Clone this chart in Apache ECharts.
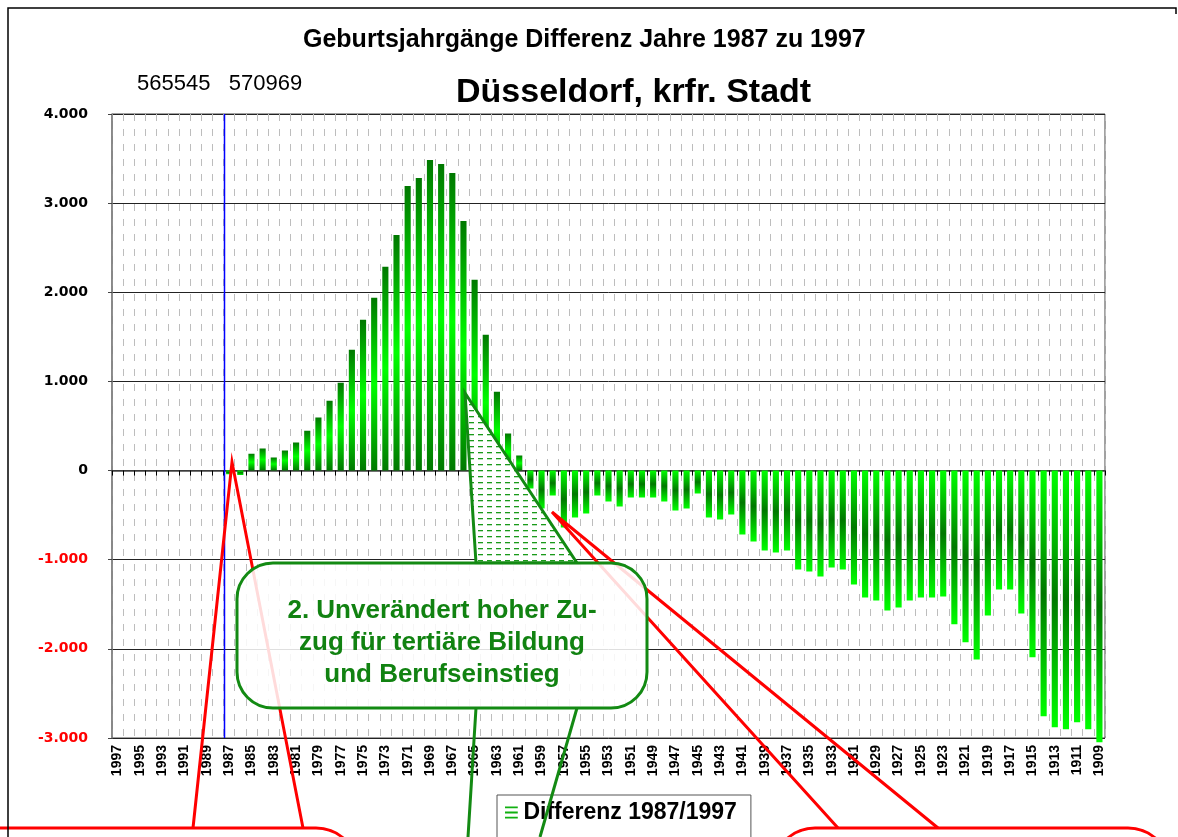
<!DOCTYPE html>
<html><head><meta charset="utf-8">
<script src="https://cdn.jsdelivr.net/npm/echarts@6/dist/echarts.min.js"></script>
<style>html,body{margin:0;padding:0;background:#fff}#c{width:1178px;height:837px}</style>
</head><body><div id="c"></div>
<script>
// ---- data ----
const years = ['1997','1996','1995','1994','1993','1992','1991','1990','1989','1988',
 '1987','1986','1985','1984','1983','1982','1981','1980','1979','1978',
 '1977','1976','1975','1974','1973','1972','1971','1970','1969','1968',
 '1967','1966','1965','1964','1963','1962','1961','1960','1959','1958',
 '1957','1956','1955','1954','1953','1952','1951','1950','1949','1948',
 '1947','1946','1945','1944','1943','1942','1941','1940','1939','1938',
 '1937','1936','1935','1934','1933','1932','1931','1930','1929','1928',
 '1927','1926','1925','1924','1923','1922','1921','1920','1919','1918',
 '1917','1916','1915','1914','1913','1912','1911','1910','1909'];
const diff = [null,null,null,null,null,null,null,null,null,null,
 -40,-50,190,247,146,224,314,448,594,784,
 986,1356,1692,1938,2286,2644,3193,3283,3485,3440,
 3339,2801,2140,1524,885,415,168,-202,-426,-280,
 -639,-527,-482,-280,-347,-403,-303,-303,-303,-347,
 -448,-426,-258,-527,-549,-493,-717,-796,-896,-919,
 -896,-1109,-1132,-1188,-1087,-1109,-1277,-1423,-1457,-1569,
 -1535,-1457,-1423,-1423,-1412,-1725,-1927,-2118,-1625,-1333,
 -1333,-1602,-2095,-2756,-2880,-2902,-2824,-2902,-3048];
const yTickValues = [-3000,-2000,-1000,0,1000,2000,3000,4000];
const yTickLabels = ['-3.000','-2.000','-1.000','0','1.000','2.000','3.000','4.000'];
const seriesName = 'Differenz 1987/1997';
const titleTop = 'Geburtsjahrgänge Differenz Jahre 1987 zu 1997';
const titleMain = 'Düsseldorf, krfr. Stadt';
const popText = '565545   570969';
const calloutText = '2. Unverändert hoher Zu-\nzug für tertiäre Bildung\nund Berufseinstieg';
const markerYearBefore = '1988', markerYearAfter = '1987';

// ---- styling ----
const FF = '"Liberation Sans", Arial, sans-serif';
const G = echarts.graphic.LinearGradient;
const posGrad = () => new G(0,0,0,1,[{offset:0,color:'#007800'},{offset:0.5,color:'#00ff00'},{offset:1,color:'#007800'}]);
const negGrad = () => new G(0,0,0,1,[{offset:0,color:'#00ff00'},{offset:0.5,color:'#007800'},{offset:1,color:'#00ff00'}]);
const barData = diff.map(v => v == null ? null : {value: v, itemStyle: {color: v >= 0 ? posGrad() : negGrad()}});

const pat = document.createElement('canvas');
pat.width = 9; pat.height = 6;
const pctx = pat.getContext('2d');
pctx.fillStyle = '#fff'; pctx.fillRect(0,0,9,6);
pctx.fillStyle = '#1a9a1a'; pctx.fillRect(1,2,5,1.3);

const chart = echarts.init(document.getElementById('c'), null, {renderer: 'canvas'});
const GREEN = '#138a13';
const option = {
  animation: false,
  backgroundColor: '#fff',
  title: [
    {text: titleTop, left: 298, top: 23, textStyle: {fontFamily: FF, fontWeight: 'bold', fontSize: 25, color: '#000'}},
    {text: titleMain, left: 451, top: 71, textStyle: {fontFamily: FF, fontWeight: 'bold', fontSize: 34, color: '#000'}},
    {text: popText, left: 132, top: 68, textStyle: {fontFamily: FF, fontWeight: 'normal', fontSize: 22, color: '#000'}}
  ],
  legend: {
    data: [{name: seriesName, icon: 'path://M0,0H10V1.4H0Z M0,4H10V5.4H0Z M0,8H10V9.4H0Z', itemStyle: {color: '#10b010'}}],
    left: 497, top: 795, orient: 'horizontal',
    itemWidth: 14, itemHeight: 12, itemGap: 6,
    padding: [6, 14, 40, 8],
    borderColor: '#555', borderWidth: 1, backgroundColor: '#fff',
    textStyle: {fontFamily: FF, fontWeight: 'bold', fontSize: 23, color: '#000'},
    selectedMode: false
  },
  grid: {left: 112, right: 73, top: 114, bottom: 99, show: true, borderColor: '#444', borderWidth: 1, containLabel: false},
  xAxis: [
    {type: 'category', data: years, position: 'bottom',
     axisLine: {show: false, onZero: false}, axisTick: {show: false},
     axisLabel: {interval: 1, rotate: 90, margin: 7, fontFamily: FF, fontWeight: 'bold', fontSize: 14, color: '#000'},
     splitLine: {show: true, interval: 0, lineStyle: {color: '#bdbdbd', width: 1, type: [7, 8]}}},
    {type: 'category', data: years, position: 'top',
     axisLine: {show: true, onZero: true, lineStyle: {color: '#444', width: 1.5}},
     axisTick: {show: true, interval: 0, inside: true, length: 5, lineStyle: {color: '#000'}},
     axisLabel: {show: false}, splitLine: {show: false}}
  ],
  yAxis: {
    type: 'value', min: -3000, max: 4000, interval: 1000,
    axisLine: {show: true, lineStyle: {color: '#808080', width: 1.5}},
    axisTick: {show: true, length: 4, lineStyle: {color: '#444'}},
    splitLine: {show: true, lineStyle: {color: '#222', width: 1}},
    axisLabel: {
      margin: 24,
      fontFamily: '"DejaVu Sans", sans-serif', fontWeight: 'bold', fontSize: 14,
      formatter: v => { const i = yTickValues.indexOf(v); return i >= 0 ? yTickLabels[i] : ''; },
      color: v => (v < 0 ? '#ff0000' : '#000')
    }
  },
  series: [{
    name: seriesName, type: 'bar', xAxisIndex: 0, data: barData,
    barWidth: '55%', clip: false, z: 3
  }],
  graphic: [
    {type: 'polyline', id: 'frame', z: 30, shape: {points: [[8,837],[8,8],[1176,8],[1176,14]]}, style: {stroke: '#000', lineWidth: 1.5, fill: null}},
    {type: 'polyline', id: 'redL', z: 20, shape: {points: [[193,828],[232,462],[303,828]]}, style: {stroke: '#ff0000', lineWidth: 3, fill: null}},
    {type: 'polyline', id: 'redR', z: 20, shape: {points: [[838,828],[552,512],[938,828]]}, style: {stroke: '#ff0000', lineWidth: 3, fill: null}},
    {type: 'rect', id: 'redBoxL', z: 21, shape: {x: -60, y: 828, width: 418, height: 120, r: 42}, style: {stroke: '#ff0000', lineWidth: 3, fill: '#fff'}},
    {type: 'rect', id: 'redBoxR', z: 21, shape: {x: 773, y: 828, width: 397, height: 120, r: 42}, style: {stroke: '#ff0000', lineWidth: 3, fill: '#fff'}},
    {type: 'polyline', id: 'gL1', z: 22, shape: {points: [[476,708],[468,837]]}, style: {stroke: GREEN, lineWidth: 3, fill: null}},
    {type: 'polyline', id: 'gL2', z: 22, shape: {points: [[577,708],[540,837]]}, style: {stroke: GREEN, lineWidth: 3, fill: null}},
    {type: 'polygon', id: 'gWedge', z: 22, shape: {points: [[465,393],[476,563],[577,563]]}, style: {stroke: GREEN, lineWidth: 3, fill: {image: pat, repeat: 'repeat'}}},
    {type: 'rect', id: 'gBox', z: 23, shape: {x: 237, y: 563, width: 410, height: 145, r: 36}, style: {stroke: GREEN, lineWidth: 3, fill: 'rgba(255,255,255,0.86)'}},
    {type: 'text', id: 'gText', z: 24, x: 442, y: 643, style: {text: calloutText, fill: '#118211', font: 'bold 26px "Liberation Sans", Arial, sans-serif', align: 'center', verticalAlign: 'middle', lineHeight: 32}}
  ]
};
chart.setOption(option);

// blue marker line at the boundary between 1988 and 1987 (computed from the axis scale)
const xa = chart.convertToPixel({xAxisIndex: 0}, markerYearBefore);
const xb = chart.convertToPixel({xAxisIndex: 0}, markerYearAfter);
const yTop = chart.convertToPixel({yAxisIndex: 0}, 4000);
const yBot = chart.convertToPixel({yAxisIndex: 0}, -3000);
const xm = Math.round((xa + xb) / 2) + 0.5;
chart.setOption({graphic: [
  {type: 'line', id: 'blue', z: 10, shape: {x1: xm, y1: yTop, x2: xm, y2: yBot}, style: {stroke: '#0000ff', lineWidth: 1.5}}
]});
</script></body></html>
